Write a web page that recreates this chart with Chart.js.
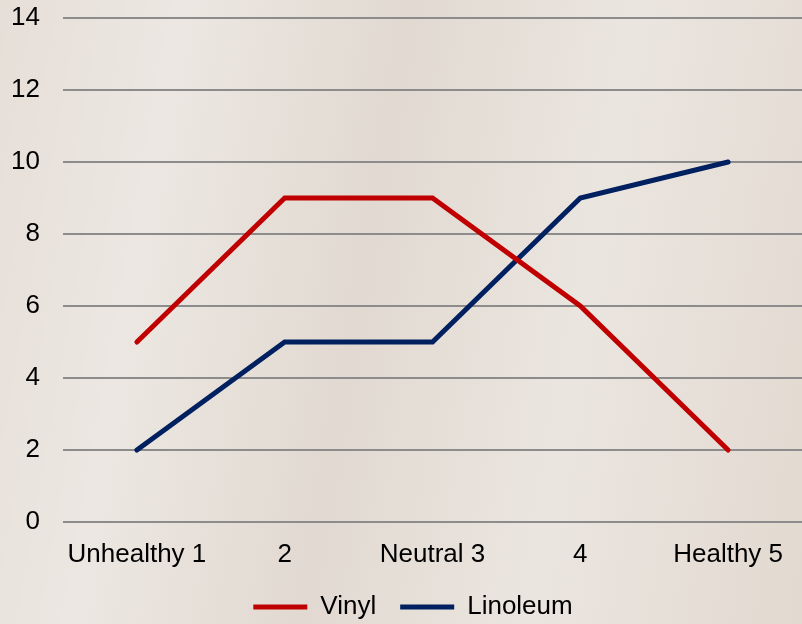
<!DOCTYPE html>
<html>
<head>
<meta charset="utf-8">
<script src="https://cdn.jsdelivr.net/npm/chart.js@4"></script>
<style>
    html, body { margin: 0; padding: 0; }
    body {
        width: 802px; height: 624px; overflow: hidden;
        background:
            linear-gradient(100deg, rgba(255,255,255,0) 0%, rgba(255,255,255,0.25) 20%, rgba(200,185,170,0.15) 45%, rgba(255,255,255,0.2) 70%, rgba(210,190,175,0.2) 100%),
            #e6dfd8;
    }
    canvas { display: block; }
</style>
</head>
<body>
<canvas id="chart" width="802" height="624"></canvas>
<script>
const categories = ['Unhealthy 1', '2', 'Neutral 3', '4', 'Healthy 5'];
const vinyl = [5, 9, 9, 6, 2];
const linoleum = [2, 5, 5, 9, 10];
const yTicks = [0, 2, 4, 6, 8, 10, 12, 14];

const FONT = 'Liberation Sans, Arial, sans-serif';

// nudge the centred legend a bit to the right, like the original
const legendShift = {
    id: 'legendShift',
    afterLayout(chart) {
        if (chart.legend) chart.legend.left += 24;
    }
};

const ctx = document.getElementById('chart').getContext('2d');
new Chart(ctx, {
    type: 'line',
    data: {
        labels: categories,
        datasets: [
            {
                label: 'Vinyl',
                data: vinyl,
                borderColor: '#C00000',
                backgroundColor: '#C00000',
                borderWidth: 5,
                borderCapStyle: 'round',
                pointRadius: 0,
                tension: 0,
                fill: false
            },
            {
                label: 'Linoleum',
                data: linoleum,
                borderColor: '#002060',
                backgroundColor: '#002060',
                borderWidth: 5,
                borderCapStyle: 'round',
                pointRadius: 0,
                tension: 0,
                fill: false
            }
        ]
    },
    plugins: [legendShift],
    options: {
        responsive: false,
        animation: false,
        layout: { padding: { top: 18, right: 0, left: 0, bottom: 0 } },
        scales: {
            x: {
                offset: true,
                grid: { display: false, drawTicks: false },
                border: { display: false },
                ticks: { color: '#000', font: { family: FONT, size: 26 }, padding: 17, maxRotation: 0 },
                afterFit: axis => { axis.height = 48; }
            },
            y: {
                min: 0,
                max: 14,
                afterBuildTicks: axis => { axis.ticks = yTicks.map(v => ({ value: v })); },
                grid: { color: '#8c8c8c', lineWidth: 2, drawTicks: false },
                border: { display: false },
                ticks: { color: '#000', font: { family: FONT, size: 26 }, padding: 23 },
                afterFit: axis => {
                    axis.width = 63;
                    axis.paddingTop = 0;
                    axis.paddingBottom = 0;
                }
            }
        },
        plugins: {
            legend: {
                position: 'bottom',
                maxHeight: 54,
                labels: {
                    usePointStyle: true,
                    pointStyle: 'line',
                    pointStyleWidth: 54,
                    padding: 24,
                    color: '#000',
                    font: { family: FONT, size: 26, lineHeight: 1 }
                }
            },
            tooltip: { enabled: false }
        }
    }
});
</script>
</body>
</html>
